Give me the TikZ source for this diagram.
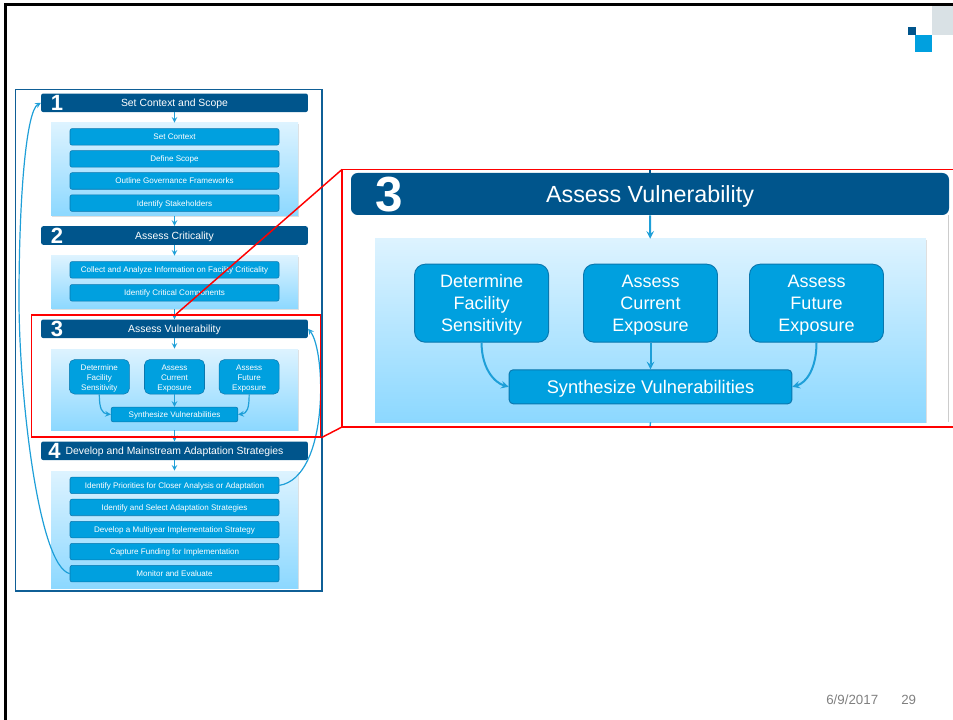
\documentclass[tikz,border=0pt]{standalone}
\usepackage{xcolor}
\usepackage{fontspec}
\setmainfont{Liberation Sans}
\usepackage{tikz}
\usetikzlibrary{arrows, positioning, shadows}

\definecolor{navy}{HTML}{00558C}
\definecolor{framec}{HTML}{0F5F96}
\definecolor{sky}{HTML}{00A0DF}
\definecolor{skyline}{HTML}{0A77AE}
\definecolor{flowblue}{HTML}{1E9FD8}
\definecolor{paneltop}{HTML}{DDF3FF}
\definecolor{panelbot}{HTML}{8CD8FF}
\definecolor{logogray}{HTML}{D9E1E5}

\begin{document}
\begin{tikzpicture}[
    x=0.75pt, y=-0.75pt,
    header/.style={rectangle, fill=navy, text=white, rounded corners=1.5pt, minimum width=200pt, minimum height=13.9pt, inner sep=0pt, text height=5.7pt, text depth=0pt, font=\fontsize{7.8}{9}\selectfont},
    bighead/.style={rectangle, fill=navy, text=white, rounded corners=5pt, minimum width=448.5pt, minimum height=31.5pt, inner sep=0pt, text height=12.6pt, text depth=0pt, font=\fontsize{17.5}{20}\selectfont},
    num/.style={text=white, inner sep=0pt, font=\bfseries\fontsize{16.5}{18}\selectfont},
    bignum/.style={text=white, inner sep=0pt, font=\bfseries\fontsize{37}{40}\selectfont},
    panel/.style={rectangle, top color=paneltop, bottom color=panelbot, minimum width=185.25pt, inner sep=0pt, drop shadow={opacity=0.25, shadow xshift=0.5pt, shadow yshift=-0.7pt}},
    cell/.style={rectangle, draw=skyline, line width=0.4pt, fill=sky, text=white, inner sep=0pt},
    item/.style={cell, rounded corners=1.5pt, minimum width=156.75pt, minimum height=12.4pt, text height=4.5pt, text depth=0pt, font=\fontsize{6.05}{7.4}\selectfont},
    task/.style={cell, align=center, rounded corners=4pt, minimum width=45pt, minimum height=25.9pt, text height=20.3pt, text depth=0pt, font=\fontsize{6.05}{7.5}\selectfont},
    bigtask/.style={cell, align=center, line width=0.7pt, rounded corners=8pt, minimum width=100.5pt, minimum height=58.5pt, text height=42pt, text depth=0pt, font=\fontsize{13.5}{16.2}\selectfont},
    flow/.style={->, >=stealth, flowblue, line width=0.9pt},
    bigflow/.style={->, >=stealth, flowblue, line width=1.5pt},
    focus/.style={red, line width=1.1pt},
    foot/.style={text=black!50, inner sep=0pt, font=\fontsize{10}{12}\selectfont}
]
\useasboundingbox (0,0) rectangle (953,720);

% Slide edge and logo
\draw[black, line width=2pt] (5.3,720) -- (5.3,4.6) -- (953,4.6);
\fill[logogray] (932,6) rectangle (953,35);
\fill[navy] (908,27) rectangle (916,35);
\fill[sky] (915,35) rectangle (932,52);

% Outer frame
\node[draw=framec, line width=1.1pt, minimum width=229.9pt, minimum height=376.1pt, inner sep=0pt] (frame) at (168.8,340.3) {};

% Step headers
\node[header] (head1) at (174.5,102.8) {Set Context and Scope};
\node[header] (head2) at (174.5,235.5) {Assess Criticality};
\node[header] (head3) at (174.5,328.8) {Assess Vulnerability};
\node[header] (head4) at (174.5,450.8) {Develop and Mainstream Adaptation Strategies};
\node[num] (num1) at (57,103) {1};
\node[num] (num2) at (57,235.5) {2};
\node[num] (num3) at (57,328.5) {3};
\node[num] (num4) at (54.5,451) {4};

% Panels
\node[panel, minimum height=69.75pt] (panel1) at (174.5,169.5) {};
\node[panel, minimum height=39.75pt] (panel2) at (174.5,282.5) {};
\node[panel, minimum height=60.75pt] (panel3) at (174.5,389.5) {};
\node[panel, minimum height=87.75pt] (panel4) at (174.5,529.5) {};

% Step 1 items
\node[item, below=4.2pt of panel1.north] (context) {Set Context};
\node[item, below=3.75pt of context] (scope) {Define Scope};
\node[item, below=3.75pt of scope] (govern) {Outline Governance Frameworks};
\node[item, below=3.75pt of govern] (stake) {Identify Stakeholders};

% Step 2 items
\node[item, below=4.2pt of panel2.north] (collect) {Collect and Analyze Information on Facility Criticality};
\node[item, below=4.4pt of collect] (critical) {Identify Critical Components};

% Step 3 items
\node[task, below=7.9pt of panel3.north] (current) {Assess\\Current\\Exposure};
\node[task, left=11pt of current] (sense) {Determine\\Facility\\Sensitivity};
\node[task, right=10.6pt of current] (future) {Assess\\Future\\Exposure};
\node[item, minimum width=95pt, minimum height=11pt, below=9.4pt of current] (synth) {Synthesize Vulnerabilities};

% Step 4 items
\node[item, below=4.6pt of panel4.north] (prior) {Identify Priorities for Closer Analysis or Adaptation};
\node[item, below=3.75pt of prior] (select) {Identify and Select Adaptation Strategies};
\node[item, below=3.75pt of select] (multi) {Develop a Multiyear Implementation Strategy};
\node[item, below=3.75pt of multi] (fund) {Capture Funding for Implementation};
\node[item, below=3.75pt of fund] (monitor) {Monitor and Evaluate};

% Connections
\draw[flow] (head1) -- (panel1);
\draw[flow] (panel1) -- (head2);
\draw[flow] (head2) -- (panel2);
\draw[flow] (panel2) -- (head3);
\draw[flow] (head3) -- (panel3);
\draw[flow] (panel3) -- (head4);
\draw[flow] (head4) -- (panel4);
\draw[flow] (sense.south) .. controls +(0,14) and +(-9,-1) .. (synth.west);
\draw[flow] (current) -- (synth);
\draw[flow] (future.south) .. controls +(0,14) and +(9,-1) .. (synth.east);

% Feedback curves
\coordinate (bulge) at (19,300);
\draw[flow] (monitor.west) .. controls +(-32,-8) and +(0,90) .. (bulge) .. controls +(0,-110) and +(-14,8) .. (head1.west);
\draw[flow] (prior.east) .. controls +(50,-8) and +(18,22) .. (head3.east);

% Enlarged step 3
\node[bighead] (bigHead) at (650,194) {Assess Vulnerability};
\node[bignum] (bigNum) at (389,195) {3};
\node[panel, minimum width=413pt, minimum height=137.25pt] (bigPanel) at (650.5,330.5) {};
\node[bigtask, below=18.75pt of bigPanel.north] (bigCurrent) {Assess\\Current\\Exposure};
\node[bigtask, left=25.5pt of bigCurrent] (bigSense) {Determine\\Facility\\Sensitivity};
\node[bigtask, right=23.3pt of bigCurrent] (bigFuture) {Assess\\Future\\Exposure};
\node[cell, line width=0.7pt, rounded corners=3pt, minimum width=212pt, minimum height=25.5pt, text height=10pt, text depth=0pt, font=\fontsize{13.7}{16}\selectfont, below=20pt of bigCurrent] (bigSynth) {Synthesize Vulnerabilities};
\draw[bigflow] (bigHead) -- (bigPanel);
\draw[bigflow] (bigSense.south) .. controls +(0,26) and +(-14,-4) .. (bigSynth.west);
\draw[bigflow] (bigCurrent) -- (bigSynth);
\draw[bigflow] (bigFuture.south) .. controls +(0,26) and +(14,-4) .. (bigSynth.east);

% Red call-out
\node[draw=red, line width=1.1pt, minimum width=216.8pt, minimum height=91.5pt, inner sep=0pt] (focusA) at (176,376) {};
\coordinate (focusNW) at (342,169.5);
\coordinate (focusNE) at (953,169.5);
\coordinate (focusSW) at (342,427);
\coordinate (focusSE) at (953,427);
\coordinate (stubTop) at (650,169.5);
\coordinate (stubBot) at (650,427);
\coordinate (edgeTop) at (948.6,215);
\coordinate (edgeBot) at (948.6,422);
\draw[navy, line width=1pt] (stubTop) -- (bigHead);
\draw[flowblue, line width=1pt] (bigPanel.south) -- (stubBot);
\draw[black!20, line width=0.4pt] (edgeTop) -- (edgeBot);
\draw[focus] (focusNE) -- (focusNW) -- (focusSW) -- (focusSE);
\draw[focus] (focusA.north) -- (focusNW);
\draw[focus] (focusA.south east) -- (focusSW);

% Footer
\node[foot, anchor=west] (date) at (826,699.5) {6/9/2017};
\node[foot, anchor=west] (page) at (901,699.5) {29};

\end{tikzpicture}
\end{document}
